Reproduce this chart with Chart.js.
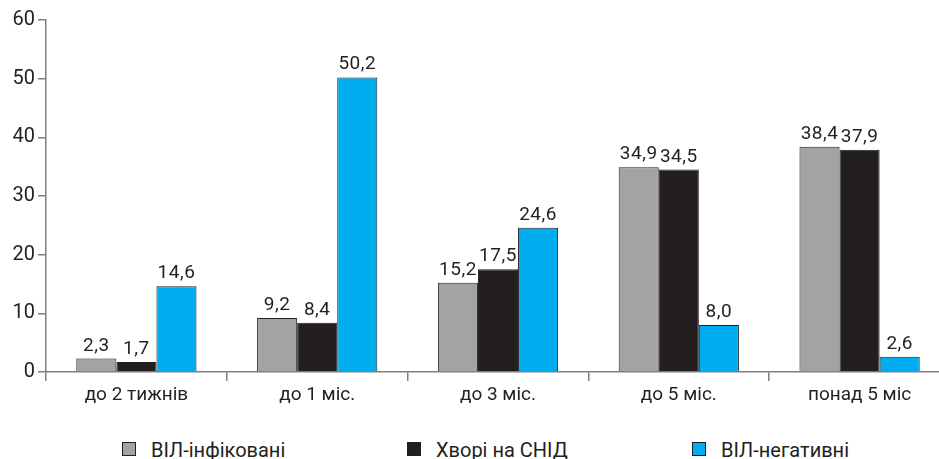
<!DOCTYPE html>
<html>
<head>
<meta charset="utf-8">
<script src="https://cdn.jsdelivr.net/npm/chart.js@4.4.1/dist/chart.umd.min.js"></script>
<style>
  html, body { margin: 0; padding: 0; background: #fff; overflow: hidden; }
  #wrap { position: relative; width: 950px; height: 459px; }
  #box { position: absolute; left: 0; top: 0; width: 950px; height: 410px; }
  #legend { position: absolute; left: 122px; top: 438px; display: flex; font-family: Roboto, sans-serif; font-size: 20px; color: #231f20; }
  .item { width: 285px; display: flex; align-items: center; }
  .sw { width: 12px; height: 12px; border: 1px solid #231f20; margin-right: 15px; margin-top: -3px; }
</style>
</head>
<body>
<div id="wrap">
  <div id="box"><canvas id="myChart"></canvas></div>
  <div id="legend"></div>
</div>
<script>
const categories = ['до 2 тижнів', 'до 1 міс.', 'до 3 міс.', 'до 5 міс.', 'понад 5 міс'];
const seriesNames = ['ВІЛ-інфіковані', 'Хворі на СНІД', 'ВІЛ-негативні'];
const hivInfected = [2.3, 9.2, 15.2, 34.9, 38.4];
const aidsPatients = [1.7, 8.4, 17.5, 34.5, 37.9];
const hivNegative = [14.6, 50.2, 24.6, 8.0, 2.6];
const yTicks = [0, 10, 20, 30, 40, 50, 60];

const colors = ['#a3a3a3', '#231f20', '#00aeef'];
const axisColor = '#808080';
const font = 'Roboto, sans-serif';

// legend in html so the items can sit far apart
const legendDiv = document.getElementById('legend');
seriesNames.forEach((name, i) => {
    legendDiv.innerHTML += `<div class="item"><span class="sw" style="background:${colors[i]}"></span>${name}</div>`;
});

const valueLabels = {
    id: 'valueLabels',
    afterDatasetsDraw(chart) {
        const ctx = chart.ctx;
        ctx.save();
        ctx.font = '19px ' + font;
        ctx.letterSpacing = '0.5px';
        ctx.fillStyle = '#231f20';
        ctx.textAlign = 'center';
        ctx.textBaseline = 'alphabetic';
        chart.data.datasets.forEach((ds, i) => {
            chart.getDatasetMeta(i).data.forEach((bar, j) => {
                ctx.fillText(ds.data[j].toFixed(1).replace('.', ','), bar.x, bar.y - 8);
            });
        });
        ctx.restore();
    }
};

const ctx = document.getElementById('myChart').getContext('2d');
const myChart = new Chart(ctx, {
    type: 'bar',
    data: {
        labels: categories,
        datasets: [hivInfected, aidsPatients, hivNegative].map((d, i) => ({
            label: seriesNames[i],
            data: d,
            backgroundColor: colors[i],
            borderColor: '#231f20',
            borderWidth: 1,
            categoryPercentage: 0.665,
            barPercentage: 1
        }))
    },
    options: {
        responsive: true,
        maintainAspectRatio: false,
        animation: false,
        layout: { padding: { top: 20, right: 0, bottom: 0, left: 0 } },
        plugins: { legend: { display: false }, tooltip: { enabled: false } },
        scales: {
            x: {
                grid: { offset: true, drawOnChartArea: false, tickLength: 9, color: axisColor, lineWidth: 1.5 },
                border: { color: axisColor, width: 1.5 },
                ticks: { color: '#231f20', font: { family: font, size: 19 }, padding: 3 },
                afterFit(scale) { scale.height = 38; }
            },
            y: {
                min: 0,
                max: 60,
                afterBuildTicks(scale) { scale.ticks = yTicks.map(v => ({ value: v })); },
                grid: { drawOnChartArea: false, tickLength: 8, color: axisColor, lineWidth: 1.5 },
                border: { color: axisColor, width: 1.5 },
                ticks: { color: '#231f20', font: { family: font, size: 20 }, padding: 3 },
                afterFit(scale) { scale.width = 46; }
            }
        }
    },
    plugins: [valueLabels]
});
</script>
</body>
</html>
